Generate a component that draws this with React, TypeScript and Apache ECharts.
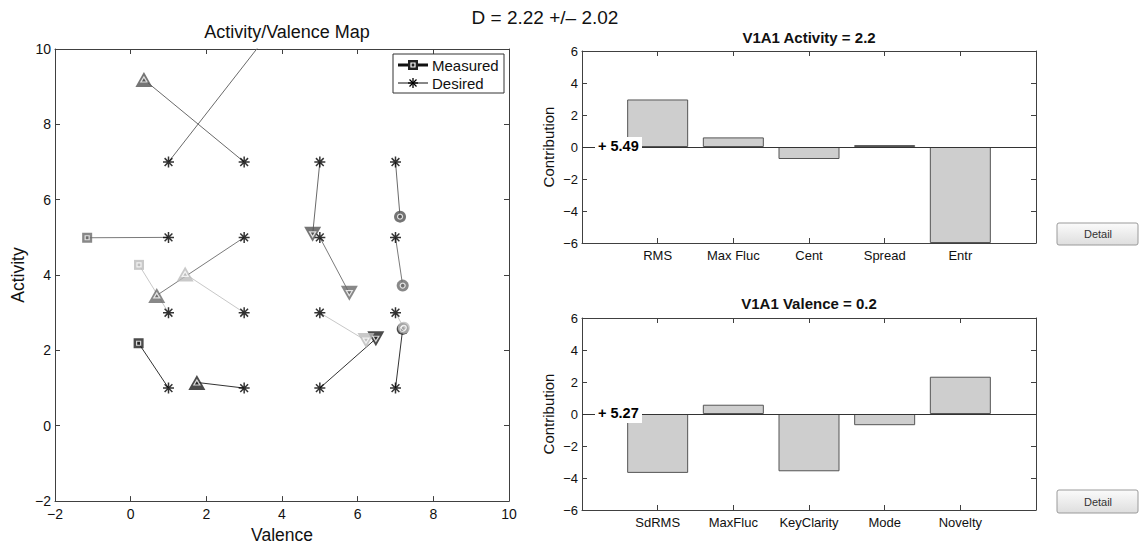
import React, { useEffect, useRef } from "react";
import * as echarts from "echarts";

// ---------------- data ----------------
const desiredValence = [1, 3, 5, 7, 1, 3, 5, 7, 1, 3, 5, 7, 1, 3, 5, 7];
const desiredActivity = [7, 7, 7, 7, 5, 5, 5, 5, 3, 3, 3, 3, 1, 1, 1, 1];
const measuredValence = [3.72, 0.35, 4.81, 7.12, -1.15, 0.69, 5.78, 7.19, 0.22, 1.44, 6.22, 7.22, 0.21, 1.75, 6.48, 7.19];
const measuredActivity = [10.5, 9.19, 5.08, 5.55, 4.99, 3.46, 3.52, 3.72, 4.27, 4.03, 2.26, 2.6, 2.19, 1.15, 2.31, 2.57];
const drawOrder = [0, 1, 2, 3, 4, 5, 6, 7, 12, 13, 14, 15, 8, 9, 10, 11];

const activityFeatures = ["RMS", "Max Fluc", "Cent", "Spread", "Entr"];
const activityContrib = [2.97, 0.6, -0.75, 0.12, -6];
const activityIntercept = "+ 5.49";
const activityTitle = "V1A1 Activity = 2.2";

const valenceFeatures = ["SdRMS", "MaxFluc", "KeyClarity", "Mode", "Novelty"];
const valenceContrib = [-3.68, 0.58, -3.58, -0.7, 2.33];
const valenceIntercept = "+ 5.27";
const valenceTitle = "V1A1 Valence = 0.2";

const mapTicks = { min: -2, max: 10, interval: 2 };
const barTicks = { min: -6, max: 6, interval: 2 };

const supTitle = "D = 2.22 +/\u2013 2.02";
const mapTitle = "Activity/Valence Map";

// ---------------- style ----------------
const FONT = "'Liberation Sans', Arial, Helvetica, sans-serif";
const AX = "#404040";
const rowColors = ["#525252", "#6a6a6a", "#bcbcbc", "#1e1e1e"];
const lineColors = ["#6a6a6a", "#7a7a7a", "#c8c8c8", "#333333"];

const G0 = { left: 55, top: 49, width: 454, height: 459 };
const G1 = { left: 582, top: 51, width: 454, height: 192 };
const G2 = { left: 582, top: 318, width: 454, height: 192 };

const STAR = "path://M6,0L6,12M0,6L12,6M1.76,1.76L10.24,10.24M1.76,10.24L10.24,1.76";

const minusFmt = (v: number) => (v < 0 ? "\u2212" + Math.abs(v) : String(v));

function shapeOf(i: number) {
  const c = i % 4;
  return c === 0 ? "rect" : c === 3 ? "circle" : "triangle";
}
function sizeOf(i: number, inner: boolean) {
  const c = i % 4;
  if (inner) return c === 0 ? 4 : c === 3 ? 5 : [6, 5];
  return c === 0 ? 10 : c === 3 ? 12 : [17, 15];
}

function mainAxis(gridIndex: number, pos: string, extra: any) {
  return {
    gridIndex,
    type: "value",
    position: pos,
    axisLine: { show: true, onZero: false, lineStyle: { color: AX, width: 1 } },
    axisTick: { show: true, inside: true, length: 5, lineStyle: { color: AX } },
    splitLine: { show: false },
    ...extra,
  };
}

function text(x: number, y: number, t: string, size: number, opts: any = {}) {
  return {
    type: "text",
    x,
    y,
    z: 100,
    style: {
      text: t,
      fontSize: size,
      fontFamily: FONT,
      fontWeight: opts.bold ? "bold" : "normal",
      fill: opts.fill || "#111",
      align: opts.align || "center",
      verticalAlign: "middle",
      textAlign: opts.align || "center",
      textVerticalAlign: "middle",
    },
  };
}

function button(y: number, h: number) {
  return [
    {
      type: "rect",
      shape: { x: 1057, y, width: 81, height: h, r: 2 },
      style: {
        fill: new echarts.graphic.LinearGradient(0, 0, 0, 1, [
          { offset: 0, color: "#fbfbfb" },
          { offset: 1, color: "#dedede" },
        ]),
        stroke: "#9a9a9a",
        lineWidth: 1,
      },
      z: 100,
    },
    text(1098, y + h / 2, "Detail", 11, { fill: "#333" }),
  ];
}

function interceptLabel(g: any, t: string) {
  const y0 = g.top + g.height / 2;
  return [
    { type: "rect", shape: { x: 595, y: y0 - 10, width: 47, height: 19 }, style: { fill: "#fff" }, z: 99 },
    text(598, y0 - 1, t, 14.5, { bold: true, align: "left", fill: "#000" }),
  ];
}

function barSeries(xi: number, yi: number, values: number[]) {
  return {
    type: "bar",
    xAxisIndex: xi,
    yAxisIndex: yi,
    data: values.map((v, i) => [i + 1, v]),
    barWidth: 61,
    itemStyle: { color: "#cecece", borderColor: "#555", borderWidth: 1 },
    markLine: {
      silent: true,
      symbol: "none",
      label: { show: false },
      lineStyle: { color: "#333", width: 1, type: "solid" },
      data: [{ yAxis: 0 }],
    },
  };
}

export default function App() {
  const ref = useRef<HTMLDivElement>(null);

  useEffect(() => {
    document.body.style.margin = "0";
    if (!ref.current) return;
    const chart = echarts.init(ref.current, undefined, { renderer: "svg" });

    const pairLines = desiredValence.map((dv, i) => ({
      type: "line",
      xAxisIndex: 0,
      yAxisIndex: 0,
      data: [
        [measuredValence[i], measuredActivity[i]],
        [dv, desiredActivity[i]],
      ],
      showSymbol: false,
      symbol: "none",
      silent: true,
      clip: true,
      z: 1,
      lineStyle: { color: lineColors[Math.floor(i / 4)], width: 1 },
    }));

    const measuredItems = (inner: boolean) =>
      drawOrder.map((i) => ({
        value: [measuredValence[i], measuredActivity[i]],
        symbol: shapeOf(i),
        symbolSize: sizeOf(i, inner),
        symbolRotate: i % 4 === 2 ? 180 : 0,
        itemStyle: inner
          ? { color: rowColors[Math.floor(i / 4)], borderColor: "#fff", borderWidth: 1.2 }
          : { color: rowColors[Math.floor(i / 4)] },
      }));

    const barXLabel = (names: string[]) => (v: number) => names[Math.round(v) - 1] ?? "";

    const option: any = {
      animation: false,
      backgroundColor: "#fff",
      textStyle: { fontFamily: FONT },
      grid: [
        { ...G0, containLabel: false },
        { ...G1, containLabel: false },
        { ...G2, containLabel: false },
      ],
      xAxis: [
        mainAxis(0, "bottom", {
          ...mapTicks,
          axisLabel: { fontSize: 14, color: "#111", margin: 6, formatter: minusFmt, fontFamily: FONT },
          name: "Valence",
          nameLocation: "middle",
          nameGap: 21,
          nameTextStyle: { fontSize: 17.5, color: "#111", fontFamily: FONT },
        }),
        mainAxis(0, "top", { ...mapTicks, axisLabel: { show: false } }),
        mainAxis(1, "bottom", {
          min: 0,
          max: 6,
          interval: 1,
          axisLabel: { fontSize: 13, color: "#111", margin: 6, formatter: barXLabel(activityFeatures), fontFamily: FONT },
        }),
        mainAxis(1, "top", { min: 0, max: 6, interval: 1, axisLabel: { show: false } }),
        mainAxis(2, "bottom", {
          min: 0,
          max: 6,
          interval: 1,
          axisLabel: { fontSize: 13, color: "#111", margin: 6, formatter: barXLabel(valenceFeatures), fontFamily: FONT },
        }),
        mainAxis(2, "top", { min: 0, max: 6, interval: 1, axisLabel: { show: false } }),
      ],
      yAxis: [
        mainAxis(0, "left", {
          ...mapTicks,
          axisLabel: { fontSize: 14, color: "#111", margin: 4, formatter: minusFmt, fontFamily: FONT },
          name: "Activity",
          nameLocation: "middle",
          nameGap: 28,
          nameTextStyle: { fontSize: 17.5, color: "#111", fontFamily: FONT },
        }),
        mainAxis(0, "right", { ...mapTicks, axisLabel: { show: false } }),
        mainAxis(1, "left", {
          ...barTicks,
          axisLabel: { fontSize: 13, color: "#111", margin: 4, formatter: minusFmt, fontFamily: FONT },
          name: "Contribution",
          nameLocation: "middle",
          nameGap: 26,
          nameTextStyle: { fontSize: 15, color: "#111", fontFamily: FONT },
        }),
        mainAxis(1, "right", { ...barTicks, axisLabel: { show: false } }),
        mainAxis(2, "left", {
          ...barTicks,
          axisLabel: { fontSize: 13, color: "#111", margin: 4, formatter: minusFmt, fontFamily: FONT },
          name: "Contribution",
          nameLocation: "middle",
          nameGap: 26,
          nameTextStyle: { fontSize: 15, color: "#111", fontFamily: FONT },
        }),
        mainAxis(2, "right", { ...barTicks, axisLabel: { show: false } }),
      ],
      series: [
        ...pairLines,
        {
          type: "scatter",
          xAxisIndex: 0,
          yAxisIndex: 0,
          data: desiredValence.map((v, i) => [v, desiredActivity[i]]),
          symbol: STAR,
          symbolSize: 11,
          itemStyle: { color: "none", borderColor: "#000", borderWidth: 1.5 },
          z: 3,
          clip: true,
        },
        {
          type: "scatter",
          xAxisIndex: 0,
          yAxisIndex: 0,
          data: measuredItems(false),
          z: 4,
          clip: true,
        },
        {
          type: "scatter",
          xAxisIndex: 0,
          yAxisIndex: 0,
          data: measuredItems(true),
          z: 5,
          clip: true,
        },
        barSeries(2, 2, activityContrib),
        barSeries(4, 4, valenceContrib),
      ],
      graphic: [
        text(545, 17, supTitle, 19),
        text(287, 32, mapTitle, 18),
        text(809, 37, activityTitle, 15, { bold: true }),
        text(809, 303, valenceTitle, 15, { bold: true }),
        ...interceptLabel(G1, activityIntercept),
        ...interceptLabel(G2, valenceIntercept),
        ...button(223, 22),
        ...button(490, 23),
        // legend
        { type: "rect", shape: { x: 393, y: 54, width: 111, height: 39 }, style: { fill: "#fff", stroke: "#333", lineWidth: 1 }, z: 90 },
        { type: "line", shape: { x1: 398, y1: 65, x2: 428, y2: 65 }, style: { stroke: "#111", lineWidth: 3 }, z: 91 },
        { type: "rect", shape: { x: 408, y: 60, width: 10, height: 10 }, style: { fill: "#222" }, z: 92 },
        { type: "rect", shape: { x: 411, y: 63, width: 4, height: 4 }, style: { fill: "#222", stroke: "#fff", lineWidth: 1.2 }, z: 93 },
        text(432, 65, "Measured", 15, { align: "left" }),
        { type: "line", shape: { x1: 398, y1: 83, x2: 428, y2: 83 }, style: { stroke: "#111", lineWidth: 1 }, z: 91 },
        { type: "line", shape: { x1: 413, y1: 78, x2: 413, y2: 88 }, style: { stroke: "#000", lineWidth: 1.3 }, z: 92 },
        { type: "line", shape: { x1: 408, y1: 83, x2: 418, y2: 83 }, style: { stroke: "#000", lineWidth: 1.3 }, z: 92 },
        { type: "line", shape: { x1: 409.5, y1: 79.5, x2: 416.5, y2: 86.5 }, style: { stroke: "#000", lineWidth: 1.3 }, z: 92 },
        { type: "line", shape: { x1: 409.5, y1: 86.5, x2: 416.5, y2: 79.5 }, style: { stroke: "#000", lineWidth: 1.3 }, z: 92 },
        text(432, 83, "Desired", 15, { align: "left" }),
      ],
    };

    chart.setOption(option);
    return () => chart.dispose();
  }, []);

  return <div ref={ref} style={{ width: 1139, height: 549 }} />;
}
